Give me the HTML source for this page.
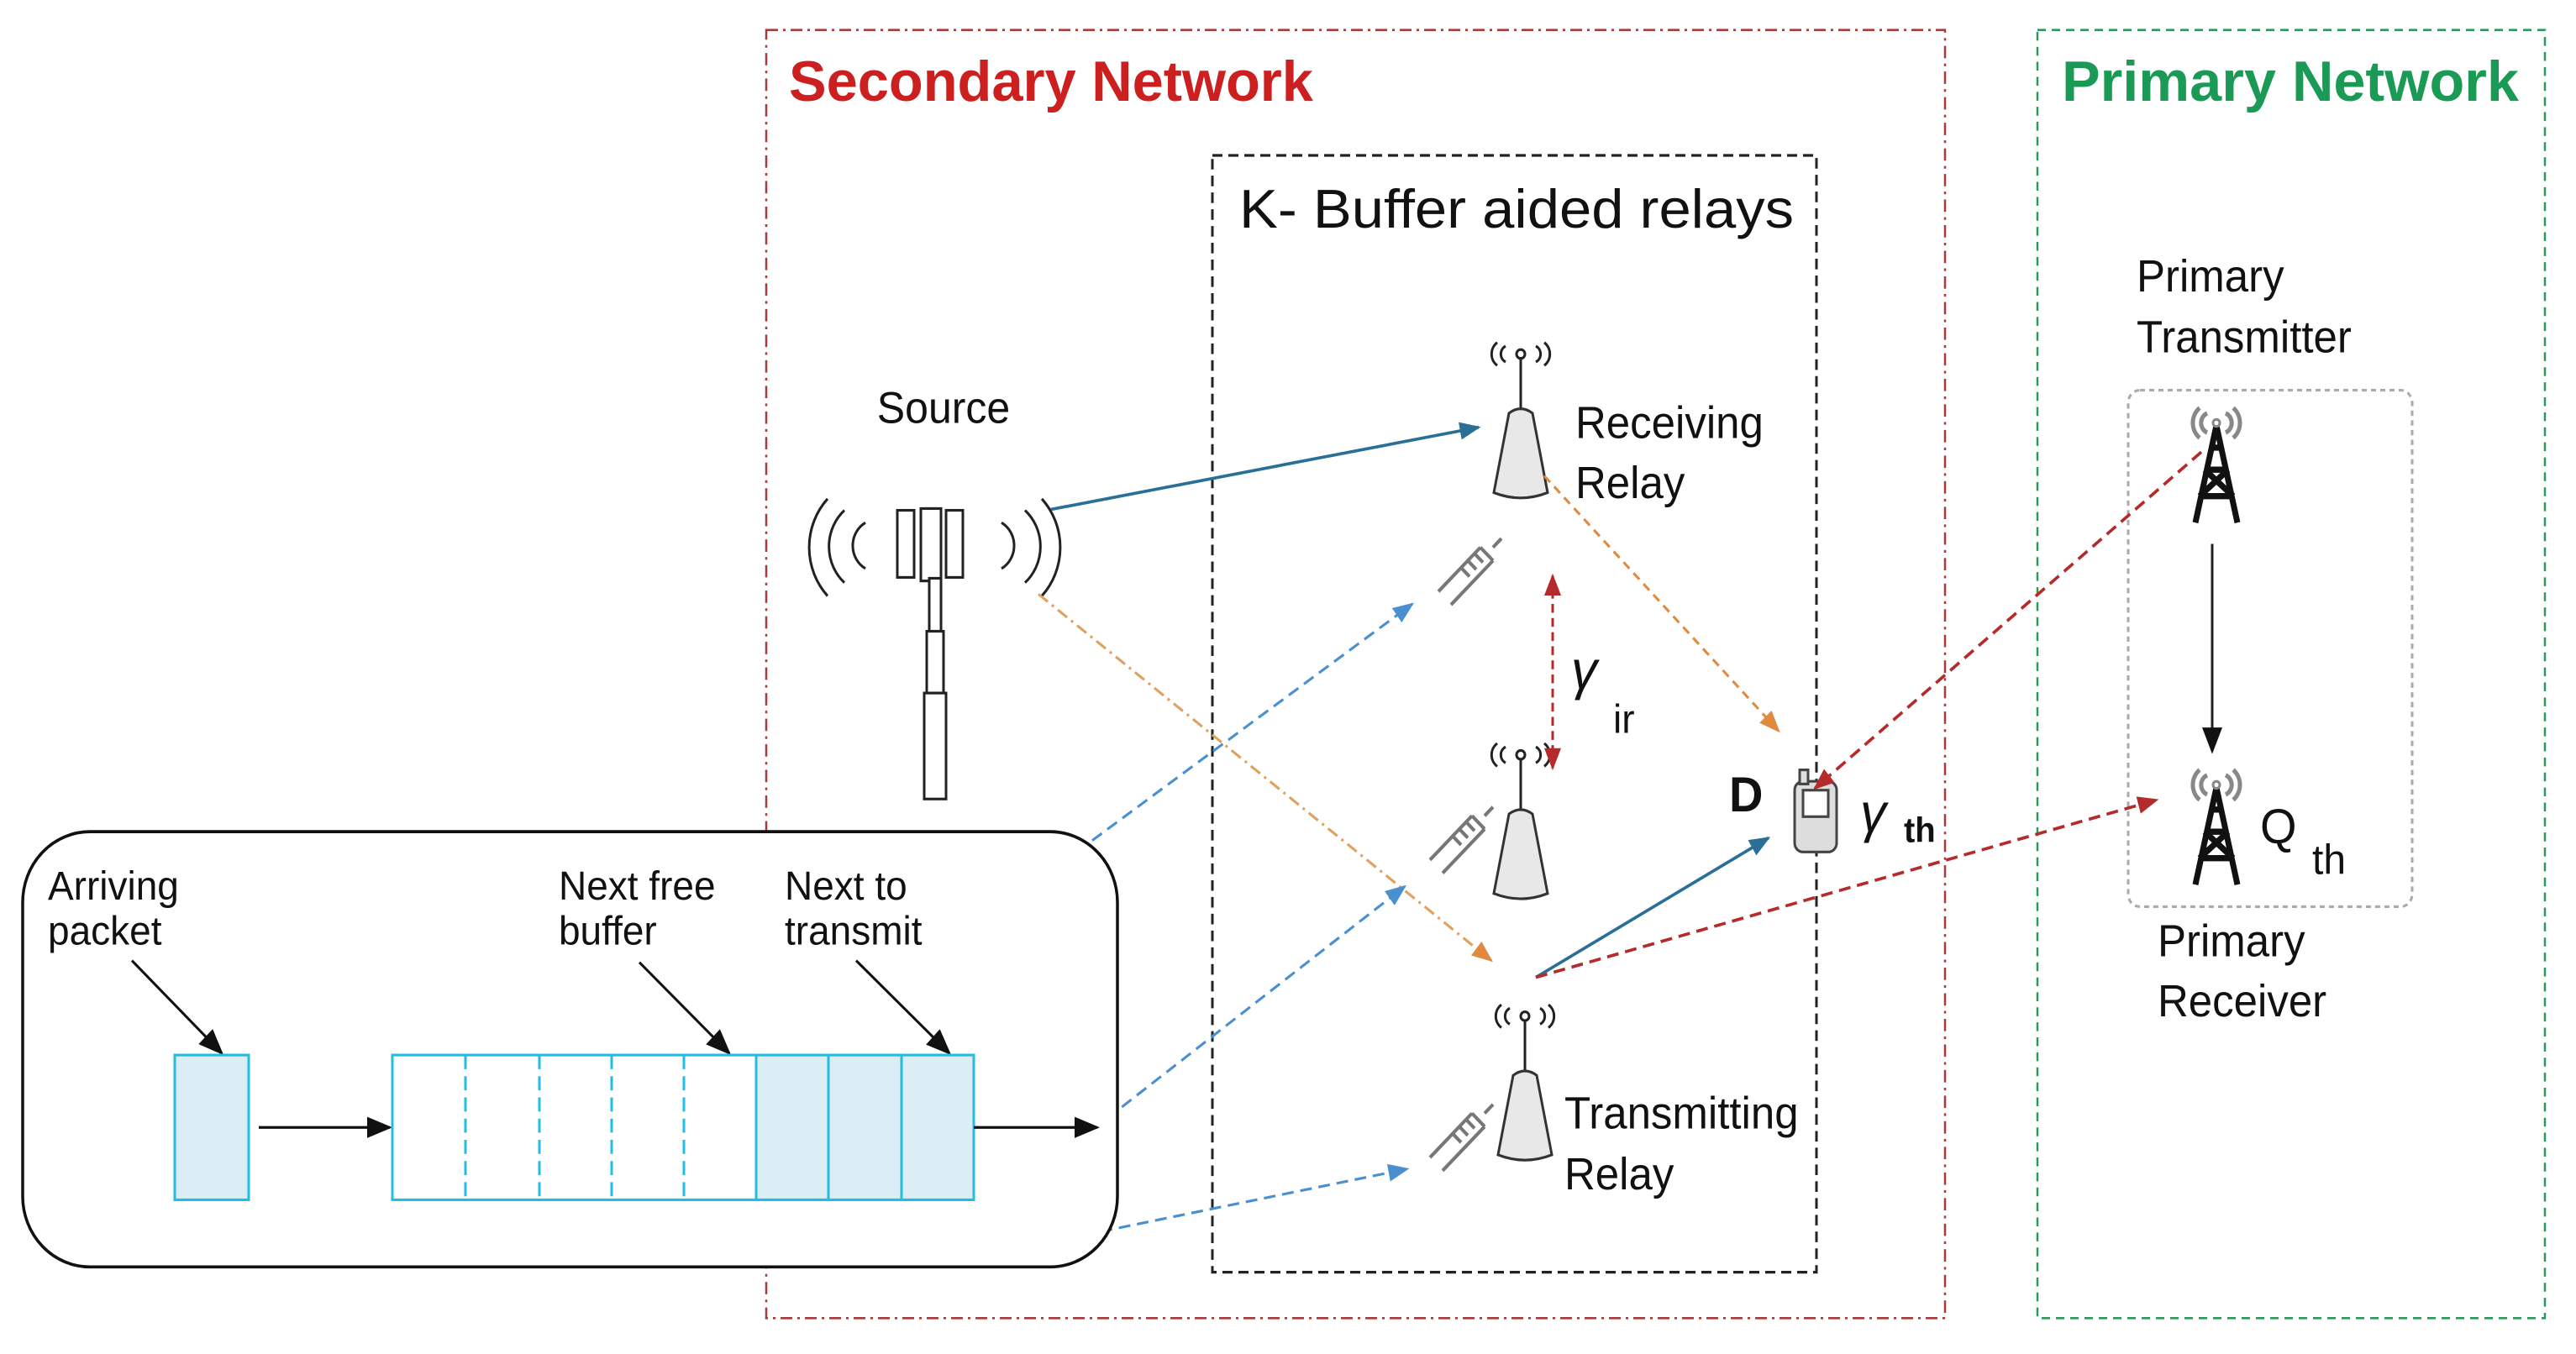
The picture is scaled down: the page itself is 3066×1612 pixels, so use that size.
<!DOCTYPE html>
<html><head><meta charset="utf-8"><style>
html,body{margin:0;padding:0;background:#fff}
svg{display:block}
text{font-family:"Liberation Sans","DejaVu Sans",sans-serif}
</style></head><body>
<svg width="3066" height="1612" viewBox="0 0 3066 1612" xmlns="http://www.w3.org/2000/svg">
<defs>
<marker id="akb" viewBox="0 0 10 8" refX="9" refY="4" markerWidth="40" markerHeight="24" orient="auto" markerUnits="userSpaceOnUse"><path d="M0,0 L10,4 L0,8 z" fill="#111"/></marker>
<marker id="adb" viewBox="0 0 10 8" refX="9" refY="4" markerWidth="28" markerHeight="20" orient="auto" markerUnits="userSpaceOnUse"><path d="M0,0 L10,4 L0,8 z" fill="#2a6f96"/></marker>
<marker id="alb" viewBox="0 0 10 8" refX="9" refY="4" markerWidth="28" markerHeight="20" orient="auto" markerUnits="userSpaceOnUse"><path d="M0,0 L10,4 L0,8 z" fill="#4a90d0"/></marker>
<marker id="aor" viewBox="0 0 10 8" refX="9" refY="4" markerWidth="28" markerHeight="20" orient="auto" markerUnits="userSpaceOnUse"><path d="M0,0 L10,4 L0,8 z" fill="#e08a40"/></marker>
<marker id="ard" viewBox="0 0 10 8" refX="9" refY="4" markerWidth="28" markerHeight="20" orient="auto" markerUnits="userSpaceOnUse"><path d="M0,0 L10,4 L0,8 z" fill="#b52a2a"/></marker>
<marker id="ards" viewBox="0 0 10 8" refX="1" refY="4" markerWidth="28" markerHeight="20" orient="auto" markerUnits="userSpaceOnUse"><path d="M10,0 L0,4 L10,8 z" fill="#b52a2a"/></marker>
<g id="tower">
<path d="M-28,-58 a16,16 0 0 0 0,26 M-18,-54 a10,10 0 0 0 0,18 M28,-58 a16,16 0 0 1 0,26 M18,-54 a10,10 0 0 1 0,18" fill="none" stroke="#222" stroke-width="3"/>
<circle cx="0" cy="-45" r="5" fill="none" stroke="#222" stroke-width="3"/>
<line x1="0" y1="-40" x2="0" y2="20" stroke="#222" stroke-width="3"/>
<path d="M-14,22 Q0,12 14,22 L32,112 Q0,124 -32,112 Z" fill="#e8e8e8" stroke="#333" stroke-width="3"/>
</g>
<g id="buf" stroke="#777" stroke-width="4" fill="none">
<path d="M-40,30 L10,-20 M-25,45 L25,-5 M10,-20 L25,-5 M-5,-5 l10,10 M3,-13 l10,10 M-13,3 l10,10 M25,-20 l10,-10"/>
</g>
<g id="ptower" stroke="#111" stroke-width="7" fill="none">
<path d="M0,-30 L-25,80 M0,-30 L25,80 M-14,20 L14,20 M-20,50 L20,50 M-14,20 L20,50 M14,20 L-20,50 M-8,-5 L8,-5"/>
<path d="M-20,-50 a22,22 0 0 0 0,34 M20,-50 a22,22 0 0 1 0,34 M-11,-44 a12,12 0 0 0 0,22 M11,-44 a12,12 0 0 1 0,22" stroke="#888" stroke-width="5"/>
<circle cx="0" cy="-33" r="4" stroke="#888" stroke-width="3"/>
</g>
</defs>
<g transform="scale(1,1.0511)">
<rect x="912" y="34" width="1403" height="1459" fill="none" stroke="#a83a3a" stroke-width="2.5" stroke-dasharray="14,6,3,6"/>
<text x="939" y="114" font-size="64" font-weight="bold" fill="#cc1f1f" textLength="624" lengthAdjust="spacingAndGlyphs">Secondary Network</text>
<rect x="2425" y="34" width="604" height="1459" fill="none" stroke="#2a9a5a" stroke-width="2.5" stroke-dasharray="10,7"/>
<text x="2454" y="114" font-size="64" font-weight="bold" fill="#1a9a55" textLength="544" lengthAdjust="spacingAndGlyphs">Primary Network</text>
<rect x="1443" y="176" width="719" height="1265" fill="none" stroke="#222" stroke-width="3" stroke-dasharray="12,7"/>
<text x="1475" y="258" font-size="62" fill="#111" textLength="660" lengthAdjust="spacingAndGlyphs">K- Buffer aided relays</text>

<text x="1123" y="479" font-size="50" text-anchor="middle" fill="#111">Source</text>
<g stroke="#222" stroke-width="3" fill="#fff">
<rect x="1068" y="578" width="20" height="76"/><rect x="1096" y="576" width="24" height="82"/><rect x="1126" y="578" width="20" height="76"/>
<rect x="1106" y="655" width="14" height="60"/><rect x="1103" y="715" width="20" height="70"/><rect x="1100" y="785" width="26" height="120"/>
</g>
<path d="M985,565 a80,80 0 0 0 0,110 M1005,578 a55,55 0 0 0 0,82 M1030,592 a30,30 0 0 0 0,52 M1240,565 a80,80 0 0 1 0,110 M1220,578 a55,55 0 0 1 0,82 M1192,592 a30,30 0 0 1 0,52" fill="none" stroke="#222" stroke-width="3"/>

<use href="#tower" x="1810" y="446"/>
<use href="#tower" x="1810" y="900"/>
<use href="#tower" x="1815" y="1196"/>
<use href="#buf" x="1752" y="640"/>
<use href="#buf" x="1742" y="944"/>
<use href="#buf" x="1742" y="1281"/>
<text x="1875" y="496" font-size="51" fill="#111">Receiving</text>
<text x="1875" y="564" font-size="51" fill="#111">Relay</text>
<text x="1862" y="1278" font-size="51" fill="#111">Transmitting</text>
<text x="1862" y="1347" font-size="51" fill="#111">Relay</text>

<line x1="1848" y1="652" x2="1848" y2="870" stroke="#b52a2a" stroke-width="3" stroke-dasharray="10,6" marker-start="url(#ards)" marker-end="url(#ard)"/>
<text x="1870" y="780" font-size="62" font-style="italic" font-family="Liberation Serif" fill="#111">γ</text>
<text x="1920" y="830" font-size="46" font-family="Liberation Serif" fill="#111">ir</text>

<text x="2058" y="919" font-size="56" font-weight="bold" fill="#111">D</text>
<g stroke="#444" stroke-width="3" fill="#ddd">
<rect x="2136" y="885" width="50" height="80" rx="10"/>
<rect x="2146" y="895" width="30" height="30" fill="#fff"/>
<rect x="2142" y="872" width="10" height="16"/>
</g>
<text x="2214" y="942" font-size="62" font-style="italic" font-family="Liberation Serif" fill="#111">γ</text>
<text x="2266" y="954" font-size="40" font-weight="bold" fill="#111">th</text>

<text x="2543" y="330" font-size="51" fill="#111">Primary</text>
<text x="2543" y="399" font-size="51" fill="#111">Transmitter</text>
<rect x="2533" y="442" width="338" height="585" rx="14" fill="none" stroke="#aaa" stroke-width="3" stroke-dasharray="6,5"/>
<use href="#ptower" x="2638" y="512"/>
<use href="#ptower" x="2638" y="922"/>
<line x1="2633" y1="616" x2="2633" y2="851" stroke="#222" stroke-width="3" marker-end="url(#akb)"/>
<text x="2690" y="955" font-size="56" font-family="Liberation Serif" fill="#111">Q</text>
<text x="2752" y="990" font-size="48" font-family="Liberation Serif" fill="#111">th</text>
<text x="2568" y="1083" font-size="51" fill="#111">Primary</text>
<text x="2568" y="1151" font-size="51" fill="#111">Receiver</text>

<line x1="1251" y1="577" x2="1760" y2="484" stroke="#2a6f96" stroke-width="3.5" marker-end="url(#adb)"/>
<line x1="1838" y1="539" x2="2117" y2="828" stroke="#e08a40" stroke-width="3" stroke-dasharray="10,7" marker-end="url(#aor)"/>
<line x1="1236" y1="673" x2="1775" y2="1088" stroke="#e0a060" stroke-width="3" stroke-dasharray="14,6,3,6" marker-end="url(#aor)"/>
<line x1="1828" y1="1107" x2="2105" y2="949" stroke="#2a6f96" stroke-width="3.5" marker-end="url(#adb)"/>
<line x1="1828" y1="1107" x2="2567" y2="906" stroke="#b52a2a" stroke-width="3.5" stroke-dasharray="14,8" marker-end="url(#ard)"/>
<line x1="2620" y1="512" x2="2160" y2="893" stroke="#b52a2a" stroke-width="3.5" stroke-dasharray="14,8" marker-end="url(#ard)"/>
<line x1="1300" y1="952" x2="1681" y2="684" stroke="#4a90d0" stroke-width="3" stroke-dasharray="14,8" marker-end="url(#alb)"/>
<line x1="1300" y1="1280" x2="1672" y2="1004" stroke="#4a90d0" stroke-width="3" stroke-dasharray="14,8" marker-end="url(#alb)"/>
<line x1="1310" y1="1395" x2="1675" y2="1324" stroke="#4a90d0" stroke-width="3" stroke-dasharray="14,8" marker-end="url(#alb)"/>

<rect x="27" y="942" width="1303" height="493" rx="80" fill="#fff" stroke="#111" stroke-width="3.5"/>
<text x="57" y="1019" font-size="46" fill="#111">Arriving</text>
<text x="57" y="1070" font-size="46" fill="#111">packet</text>
<text x="665" y="1019" font-size="46" fill="#111">Next free</text>
<text x="665" y="1070" font-size="46" fill="#111">buffer</text>
<text x="934" y="1019" font-size="46" fill="#111">Next to</text>
<text x="934" y="1070" font-size="46" fill="#111">transmit</text>
<line x1="157" y1="1088" x2="264" y2="1193" stroke="#111" stroke-width="3" marker-end="url(#akb)"/>
<line x1="761" y1="1090" x2="868" y2="1193" stroke="#111" stroke-width="3" marker-end="url(#akb)"/>
<line x1="1019" y1="1088" x2="1130" y2="1193" stroke="#111" stroke-width="3" marker-end="url(#akb)"/>
<rect x="208" y="1195" width="88" height="164" fill="#dbeef5" stroke="#22bde0" stroke-width="3"/>
<line x1="308" y1="1277" x2="464" y2="1277" stroke="#111" stroke-width="3" marker-end="url(#akb)"/>
<rect x="900" y="1195" width="259" height="164" fill="#dbeef5"/>
<rect x="467" y="1195" width="692" height="164" fill="none" stroke="#22bde0" stroke-width="3"/>
<g stroke="#22bde0" stroke-width="3">
<line x1="554" y1="1195" x2="554" y2="1359" stroke-dasharray="16,8"/>
<line x1="642" y1="1195" x2="642" y2="1359" stroke-dasharray="16,8"/>
<line x1="728" y1="1195" x2="728" y2="1359" stroke-dasharray="16,8"/>
<line x1="814" y1="1195" x2="814" y2="1359" stroke-dasharray="16,8"/>
<line x1="900" y1="1195" x2="900" y2="1359"/>
<line x1="986" y1="1195" x2="986" y2="1359"/>
<line x1="1073" y1="1195" x2="1073" y2="1359"/>
</g>
<line x1="1159" y1="1277" x2="1306" y2="1277" stroke="#111" stroke-width="3" marker-end="url(#akb)"/>
</g>
</svg>
</body></html>
